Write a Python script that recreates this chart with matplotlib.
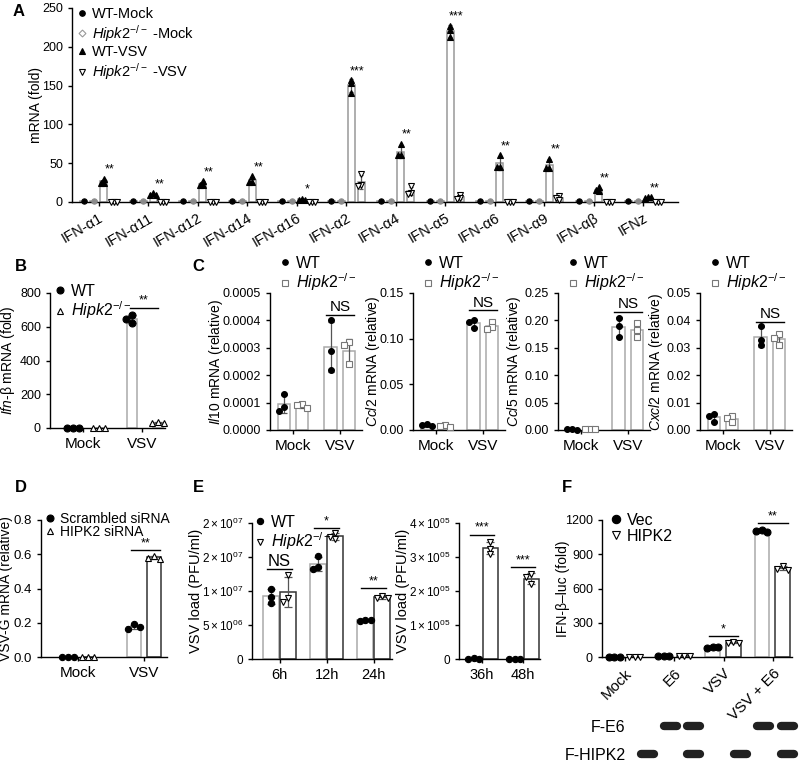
import numpy as np
import matplotlib
matplotlib.use("Agg")
import matplotlib.pyplot as plt
from matplotlib.lines import Line2D

plt.rcParams['font.family'] = ['Liberation Sans', 'DejaVu Sans']
plt.rcParams['mathtext.fontset'] = 'custom'
plt.rcParams['mathtext.rm'] = 'Liberation Sans'
plt.rcParams['mathtext.it'] = 'Liberation Sans:italic'
plt.rcParams['mathtext.bf'] = 'Liberation Sans:bold'
plt.rcParams['axes.linewidth'] = 1.0
plt.rcParams['xtick.major.width'] = 1.0
plt.rcParams['ytick.major.width'] = 1.0
plt.rcParams['xtick.major.size'] = 3
plt.rcParams['ytick.major.size'] = 3
plt.rcParams['xtick.labelsize'] = 9
plt.rcParams['ytick.labelsize'] = 9

KO = r'$\mathit{Hipk2}^{-/-}$'

# ---------------- data ----------------
# A: IFN subtypes
ifn_labels = ['IFN-α1', 'IFN-α11', 'IFN-α12', 'IFN-α14', 'IFN-α16', 'IFN-α2',
              'IFN-α4', 'IFN-α5', 'IFN-α6', 'IFN-α9', 'IFN-αβ', 'IFNz']
a_wt_mock = [1, 1, 1, 1, 1, 1, 1, 1, 1, 1, 1, 1]
a_ko_mock = [1, 1, 1, 1, 1, 1, 1, 1, 1, 1, 1, 1]
a_wt_vsv = [[30, 25, 25], [11, 9, 9], [27, 22, 22], [33, 26, 26], [4, 3, 3],
            [157, 153, 141], [75, 60, 60], [227, 222, 212], [60, 45, 45],
            [56, 44, 44], [19, 14, 15], [6, 5, 6]]
a_ko_vsv = [[0.5, 0.5, 0.5], [0.5, 0.5, 0.5], [0.5, 0.5, 0.5], [0.5, 0.5, 0.5],
            [0.5, 0.5, 0.5], [36, 22, 20], [20, 12, 10], [9, 5, 4],
            [0.5, 0.5, 0.5], [8, 5, 3], [0.5, 0.5, 0.5], [0.5, 0.5, 0.5]]
a_stars = ['**', '**', '**', '**', '*', '***', '**', '***', '**', '**', '**', '**']

two_groups = ['Mock', 'VSV']

# B: Ifn-b
b_wt = [[2, 2, 2], [670, 620, 645]]
b_ko = [[2, 2, 2], [36, 30, 30]]
b_sig = ('**', 714)

# C: cytokines
c_genes = ['Il10', 'Ccl2', 'Ccl5', 'Cxcl2']
c_ymax = [0.0005, 0.15, 0.25, 0.05]
c_ticks = [[0, 0.0001, 0.0002, 0.0003, 0.0004, 0.0005],
           [0, 0.05, 0.10, 0.15],
           [0, 0.05, 0.10, 0.15, 0.20, 0.25],
           [0, 0.01, 0.02, 0.03, 0.04, 0.05]]
c_ticklabels = [['0.0000', '0.0001', '0.0002', '0.0003', '0.0004', '0.0005'],
                ['0.00', '0.05', '0.10', '0.15'],
                ['0.00', '0.05', '0.10', '0.15', '0.20', '0.25'],
                ['0.00', '0.01', '0.02', '0.03', '0.04', '0.05']]
c_wt = [[[0.00013, 0.000085, 0.00007], [0.0004, 0.00029, 0.00022]],
        [[0.007, 0.005, 0.004], [0.12, 0.112, 0.118]],
        [[0.001, 0.001, 0.0008], [0.205, 0.19, 0.17]],
        [[0.006, 0.005, 0.003], [0.038, 0.033, 0.031]]]
c_ko = [[[0.000095, 0.00009, 0.00008], [0.00032, 0.00031, 0.00024]],
        [[0.005, 0.004, 0.003], [0.118, 0.113, 0.111]],
        [[0.002, 0.0015, 0.001], [0.195, 0.183, 0.17]],
        [[0.005, 0.0045, 0.003], [0.035, 0.0335, 0.031]]]
c_sig_y = [0.00042, 0.131, 0.216, 0.0394]

# D: VSV-G
d_scr = [[0.002, 0.002, 0.002], [0.19, 0.165, 0.175]]
d_hip = [[0.002, 0.002, 0.002], [0.59, 0.58, 0.575]]
d_sig = ('**', 0.625)

# E: virus load
e1_groups = ['6h', '12h', '24h']
e1_wt = [[10.3e6, 9.1e6, 8.2e6], [15.2e6, 13.6e6, 13.2e6], [5.7e6, 5.6e6, 5.7e6]]
e1_ko = [[12.4e6, 8.9e6, 8.4e6], [18.6e6, 18.0e6, 17.6e6], [9.3e6, 9.0e6, 8.9e6]]
e1_sig = [('NS', 13.2e6), ('*', 19.3e6), ('**', 10.4e6)]
e1_ticks = [0, 5e6, 1e7, 1.5e7, 2e7]
e1_ticklabels = ['0', r'$5\times10^{06}$', r'$1\times10^{07}$',
                 r'$2\times10^{07}$', r'$2\times10^{07}$']
e2_groups = ['36h', '48h']
e2_wt = [[1500, 1200, 1000], [1200, 1000, 900]]
e2_ko = [[3.45e5, 3.25e5, 3.1e5], [2.5e5, 2.4e5, 2.2e5]]
e2_sig = [('***', 3.66e5), ('***', 2.71e5)]
e2_ticks = [0, 1e5, 2e5, 3e5, 4e5]
e2_ticklabels = ['0', r'$1\times10^{05}$', r'$2\times10^{05}$',
                 r'$3\times10^{05}$', r'$4\times10^{05}$']

# F: luciferase
f_groups = ['Mock', 'E6', 'VSV', 'VSV + E6']
f_vec = [[3, 3, 3], [10, 10, 10], [88, 82, 85], [1110, 1100, 1095]]
f_hip = [[3, 3, 3], [10, 10, 10], [130, 125, 120], [795, 770, 765]]
f_sig = [None, None, ('*', 184), ('**', 1171)]
blot_rows = ['F-E6', 'F-HIPK2']
blot_bands = [[0, 1, 1, 0, 0, 1, 1], [1, 0, 1, 0, 1, 0, 1]]   # lanes 1..7 (lane 0 empty)

# ---------------- helpers ----------------
W, H = 800, 764
fig = plt.figure(figsize=(W / 100, H / 100), dpi=100)


def add_ax(l, r, t, b):
    ax = fig.add_axes([l / W, 1 - b / H, (r - l) / W, (b - t) / H])
    ax.spines['top'].set_visible(False)
    ax.spines['right'].set_visible(False)
    return ax


def ylab(ax, text, right_px, fs=10):
    ax.set_ylabel(text, fontsize=fs)
    bb = ax.get_position()
    ax.yaxis.set_label_coords(right_px / W, bb.y0 + bb.height / 2, transform=fig.transFigure)


def swarm_x(ax, x0, vals, diam):
    pts = ax.transData.transform([(x0, v) for v in vals])
    placed = []
    for px, py in pts:
        for k in [0, -1, 1, -2, 2]:
            cx = px + k * diam
            if all((cx - qx) ** 2 + (py - qy) ** 2 >= (0.85 * diam) ** 2 for qx, qy in placed):
                break
        placed.append((cx, py))
    return ax.transData.inverted().transform(placed)[:, 0]


def bar_series(ax, x, reps, w, ec, marker, mfc, mec, ms, diam, cap=3, ecol='#555555'):
    reps = np.asarray(reps, float)
    m = reps.mean(1)
    sd = reps.std(1, ddof=1)
    ax.bar(x, m, w, color='white', edgecolor=ec, linewidth=1.1, zorder=1)
    ax.errorbar(x, m, yerr=sd, fmt='none', ecolor=ecol, elinewidth=0.9,
                capsize=cap, capthick=0.9, zorder=2)
    for xi, r in zip(x, reps):
        xs = swarm_x(ax, xi, r, diam)
        ax.plot(xs, r, ls='none', marker=marker, ms=ms, mfc=mfc, mec=mec,
                mew=0.8, zorder=3, clip_on=False)


def bracket(ax, x1, x2, y, text, fs=9):
    ax.plot([x1, x2], [y, y], color='k', lw=1.0, clip_on=False)
    ax.annotate(text, ((x1 + x2) / 2, y), xytext=(0, 0.5), textcoords='offset points',
                ha='center', va='bottom', fontsize=fs)


def legend(ax, handles, labels, left_px, top_px, fs=10.5, spacing=0.15):
    ax.legend(handles, labels, loc='upper left', bbox_to_anchor=(left_px / W, 1 - top_px / H),
              bbox_transform=fig.transFigure, frameon=False, fontsize=fs,
              handlelength=0.7, handletextpad=0.35, labelspacing=spacing,
              borderpad=0, borderaxespad=0)


def mk(marker, mfc, mec, ms):
    return Line2D([], [], ls='none', marker=marker, mfc=mfc, mec=mec, ms=ms, mew=0.8)


def letter(x, y, s):
    fig.text(x / W, 1 - y / H, s, fontsize=12, fontweight='bold', ha='center', va='center')


# ---------------- A ----------------
axA = add_ax(72, 678, 8, 202)
axA.set_xlim(-1.2, 60)
axA.set_ylim(0, 250)
axA.set_yticks(np.arange(0, 251, 50))
g = np.arange(len(ifn_labels)) * 5
axA.set_xticks(g + 1.5)
axA.set_xticklabels(ifn_labels, rotation=30, ha='right', rotation_mode='anchor', fontsize=10.5)
bar_series(axA, g + 0, [[v] for v in a_wt_mock], 0.7, '#999999', 'o', 'k', 'k', 3.8, 4)
bar_series(axA, g + 1, [[v] for v in a_ko_mock], 0.7, '#999999', 'o', '#8a8a8a', '#8a8a8a', 3.8, 4)
bar_series(axA, g + 2, a_wt_vsv, 0.7, '#999999', '^', 'k', 'k', 4, 3, cap=1.5)
bar_series(axA, g + 3, a_ko_vsv, 0.7, '#999999', 'v', 'white', 'k', 4, 3, cap=1.5)
for gi, s, r in zip(g, a_stars, a_wt_vsv):
    axA.text(gi + 2.6, max(r) + 4, s, ha='center', va='bottom', fontsize=9)
ylab(axA, 'mRNA (fold)', 43)
legend(axA, [mk('o', 'k', 'k', 4), mk('D', 'white', '#999999', 3.5),
             mk('^', 'k', 'k', 4), mk('v', 'white', 'k', 4.5)],
       ['WT-Mock', KO + ' -Mock', 'WT-VSV', KO + ' -VSV'], 77, 7, fs=10.5, spacing=0.12)
letter(19, 11, 'A')

# ---------------- B ----------------
axB = add_ax(50, 165, 293, 428)
axB.set_xlim(-0.56, 1.39)
axB.set_ylim(0, 800)
axB.set_yticks([0, 200, 400, 600, 800])
cx = np.arange(2)
bar_series(axB, cx - 0.17, b_wt, 0.18, '#aaaaaa', 'o', 'k', 'k', 5, 6)
bar_series(axB, cx + 0.27, b_ko, 0.18, '#aaaaaa', '^', 'white', 'k', 5, 6)
axB.set_xticks(cx)
axB.set_xticklabels(two_groups, fontsize=11)
bracket(axB, 1 - 0.2, 1 + 0.27, b_sig[1], b_sig[0])
ylab(axB, r'$\mathit{Ifn}$-β mRNA (fold)', 17)
legend(axB, [mk('o', 'k', 'k', 5), mk('^', 'white', 'k', 5)], ['WT', KO], 54, 284, fs=11.5, spacing=0.05)
letter(21, 267, 'B')

# ---------------- C ----------------
c_left = [270, 413, 558, 700]
c_lab_right = [225, 382, 523, 665]
for i in range(4):
    ax = add_ax(c_left[i], c_left[i] + 92, 293, 430)
    ax.set_xlim(-0.49, 1.47)
    ax.set_ylim(0, c_ymax[i])
    ax.set_yticks(c_ticks[i])
    ax.set_yticklabels(c_ticklabels[i])
    bar_series(ax, cx - 0.2, c_wt[i], 0.26, '#aaaaaa', 'o', 'k', 'k', 4.2, 5, cap=2.5)
    bar_series(ax, cx + 0.2, c_ko[i], 0.26, '#aaaaaa', 's', 'white', '#777777', 4.2, 5, cap=2.5)
    ax.set_xticks(cx)
    ax.set_xticklabels(two_groups, fontsize=11)
    bracket(ax, 1 - 0.3, 1 + 0.3, c_sig_y[i], 'NS', fs=11)
    ylab(ax, r'$\mathit{' + c_genes[i] + '}$ mRNA (relative)', c_lab_right[i])
    legend(ax, [mk('o', 'k', 'k', 4), mk('s', 'white', '#777777', 4.5)], ['WT', KO],
           c_left[i] + 9, 256, fs=11.5, spacing=0.05)
letter(198, 267, 'C')

# ---------------- D ----------------
axD = add_ax(41, 167, 520, 657)
axD.set_xlim(-0.56, 1.35)
axD.set_ylim(0, 0.8)
axD.set_yticks([0, 0.2, 0.4, 0.6, 0.8])
axD.set_yticklabels(['0.0', '0.2', '0.4', '0.6', '0.8'], fontsize=9.5)
bar_series(axD, cx - 0.15, d_scr, 0.21, '#aaaaaa', 'o', 'k', 'k', 4.5, 6)
bar_series(axD, cx + 0.15, d_hip, 0.21, '#333333', '^', 'white', 'k', 4.5, 6)
axD.set_xticks(cx)
axD.set_xticklabels(two_groups, fontsize=11)
bracket(axD, 1 - 0.2, 1 + 0.25, d_sig[1], d_sig[0])
ylab(axD, 'VSV-G mRNA (relative)', 13, fs=10)
legend(axD, [mk('o', 'k', 'k', 5), mk('^', 'white', 'k', 4.5)], ['Scrambled siRNA', 'HIPK2 siRNA'],
       45, 512, fs=10, spacing=-0.1)
letter(21, 487, 'D')

# ---------------- E ----------------
axE1 = add_ax(252, 392, 523, 659)
axE1.set_xlim(-0.585, 2.39)
axE1.set_ylim(0, 2e7)
axE1.set_yticks(e1_ticks)
axE1.set_yticklabels(e1_ticklabels, fontsize=8.5)
ex = np.arange(3)
bar_series(axE1, ex - 0.18, e1_wt, 0.34, '#aaaaaa', 'o', 'k', 'k', 4.5, 5.5)
bar_series(axE1, ex + 0.18, e1_ko, 0.34, '#333333', 'v', 'white', 'k', 5, 5.5)
axE1.set_xticks(ex)
axE1.set_xticklabels(e1_groups, fontsize=10.5)
for xi, (s, y) in zip(ex, e1_sig):
    bracket(axE1, xi - 0.26, xi + 0.26, y, s, fs=12 if s == 'NS' else 9)
ylab(axE1, 'VSV load (PFU/ml)', 203, fs=10.5)
legend(axE1, [mk('o', 'k', 'k', 4.5), mk('v', 'white', 'k', 4.5)], ['WT', KO], 254, 515, fs=11.5, spacing=0.05)

axE2 = add_ax(459, 540, 523, 659)
axE2.set_xlim(-0.56, 1.41)
axE2.set_ylim(0, 4e5)
axE2.set_yticks(e2_ticks)
axE2.set_yticklabels(e2_ticklabels, fontsize=8.5)
bar_series(axE2, cx - 0.2, e2_wt, 0.37, '#aaaaaa', 'o', 'k', 'k', 4.5, 5.5)
bar_series(axE2, cx + 0.2, e2_ko, 0.37, '#333333', 'v', 'white', 'k', 5, 5.5)
axE2.set_xticks(cx)
axE2.set_xticklabels(e2_groups, fontsize=10.5)
for xi, (s, y) in zip(cx, e2_sig):
    bracket(axE2, xi - 0.3, xi + 0.3, y, s)
ylab(axE2, 'VSV load (PFU/ml)', 410, fs=10.5)
letter(198, 487, 'E')

# ---------------- F ----------------
axF = add_ax(602, 792, 520, 657)
axF.set_xlim(-0.47, 3.39)
axF.set_ylim(0, 1200)
axF.set_yticks([0, 300, 600, 900, 1200])
fx = np.arange(4)
bar_series(axF, fx - 0.22, f_vec, 0.3, '#aaaaaa', 'o', 'k', 'k', 5, 5.5)
bar_series(axF, fx + 0.2, f_hip, 0.3, '#333333', 'v', 'white', 'k', 5, 5.5)
axF.set_xticks(fx)
axF.set_xticklabels(f_groups, rotation=45, ha='right', rotation_mode='anchor', fontsize=11)
for xi, sg in zip(fx, f_sig):
    if sg:
        bracket(axF, xi - 0.3, xi + 0.3, sg[1], sg[0])
ylab(axF, 'IFN-β–luc (fold)', 570, fs=10)
legend(axF, [mk('o', 'k', 'k', 6), mk('v', 'white', 'k', 6)], ['Vec', 'HIPK2'], 610, 513, fs=11.5, spacing=0.05)
letter(567, 487, 'F')

# western blot
axW = fig.add_axes([630 / W, 2 / H, (799 - 630) / W, (764 - 716) / H])
axW.patch.set_visible(False)
axW.set_xlim(0.27, 7.51)
axW.set_ylim(1.3, -0.45)
for s in axW.spines.values():
    s.set_visible(False)
axW.set_xticks([])
axW.set_yticks(range(len(blot_rows)))
axW.set_yticklabels(blot_rows, fontsize=11.5)
axW.tick_params(axis='y', length=0, pad=3)
for row, bands in enumerate(blot_bands):
    for lane, on in enumerate(bands, start=1):
        if on:
            axW.plot([lane - 0.28, lane + 0.28], [row, row], color='#151515', lw=6,
                     solid_capstyle='round', alpha=0.95)

fig.savefig('out.png', dpi=100)
